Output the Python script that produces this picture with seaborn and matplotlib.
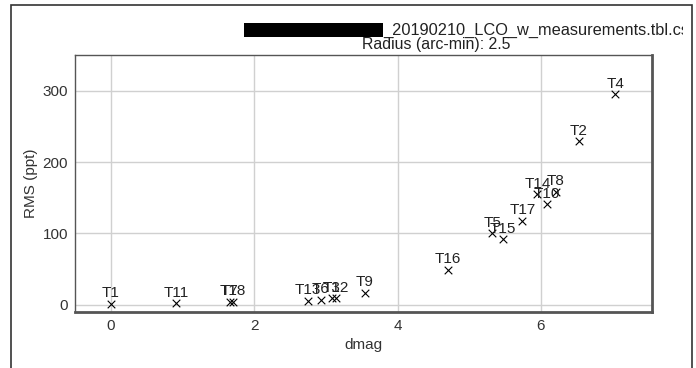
import matplotlib
matplotlib.use("Agg")
import matplotlib.pyplot as plt
from matplotlib.patches import Rectangle
from matplotlib.transforms import Bbox
import seaborn as sns
import pandas as pd

# Target photometry: magnitude difference vs. RMS scatter
targets = ["T1", "T11", "T7", "T18", "T13", "T6", "T3", "T12", "T9",
           "T16", "T5", "T15", "T17", "T14", "T10", "T8", "T2", "T4"]
dmag = [0.00, 0.91, 1.66, 1.70, 2.75, 2.93, 3.08, 3.14, 3.54,
        4.70, 5.32, 5.47, 5.74, 5.95, 6.08, 6.21, 6.53, 7.04]
rms_ppt = [1, 2, 4, 4, 6, 7, 9, 9, 17,
           49, 100, 92, 118, 155, 141, 158, 229, 295]

x_ticks = [0, 2, 4, 6]
y_ticks = [0, 100, 200, 300]
title_file = "_20190210_LCO_w_measurements.tbl.csv"
title_radius = "Radius (arc-min): 2.5"

df = pd.DataFrame({"target": targets, "dmag": dmag, "rms": rms_ppt})

sns.set_theme(style="whitegrid")
plt.rcParams["font.family"] = ["Liberation Sans", "DejaVu Sans"]
FS = 11

W, H = 696, 368
fig = plt.figure(figsize=(W / 100, H / 100), dpi=100)
fig.patch.set_facecolor("white")
ax = fig.add_axes([75 / W, 1 - 312 / H, (652 - 75) / W, (312 - 55) / H])

sns.scatterplot(data=df, x="dmag", y="rms", marker="x", color="black",
                s=30, linewidth=0.8, ax=ax, legend=False, zorder=3)

for name, xv, yv in zip(targets, dmag, rms_ppt):
    ax.annotate(name, (xv, yv), xytext=(0, 4.8), textcoords="offset points",
                ha="center", va="baseline", fontsize=FS, color="#222222",
                zorder=4)

ax.set_xlim(-0.5, 7.55)
ax.set_ylim(-10, 350)
ax.set_xticks(x_ticks)
ax.set_yticks(y_ticks)
ax.set_xlabel("dmag", fontsize=FS, color="#333333", labelpad=4)
ax.set_ylabel("RMS (ppt)", fontsize=FS, color="#333333", labelpad=3)
ax.tick_params(axis="both", length=0, pad=5, labelsize=FS, colors="#333333")
ax.grid(True, color="#d0d0d0", linewidth=1.0)
ax.set_facecolor("white")
for side, sp in ax.spines.items():
    sp.set_visible(True)
    sp.set_color("#555555")
    sp.set_linewidth(1.0)
ax.spines["bottom"].set_linewidth(2.0)
ax.spines["right"].set_linewidth(2.0)

# Outer panel frame
fig.patches.append(Rectangle((11 / W, -0.2), (692 - 11) / W, 1.2 - 5 / H,
                             transform=fig.transFigure, fill=False,
                             edgecolor="#333333", linewidth=1.2))

# Title: redacted prefix, file name (cut off at the panel edge) and radius
fig.patches.append(Rectangle((244 / W, 1 - 37 / H), (383 - 244) / W, 14 / H,
                             transform=fig.transFigure, facecolor="black",
                             edgecolor="none"))
t1 = fig.text(383 / W, 1 - 30 / H, title_file, ha="left", va="center",
              fontsize=11.8, color="#222222")
t1.set_clip_on(True)
t1.set_clip_box(Bbox.from_extents(0, 0, 683, H))
fig.text(436.5 / W, 1 - 44 / H, title_radius, ha="center", va="center",
         fontsize=11.4, color="#222222")

fig.savefig("out.png", dpi=100)
